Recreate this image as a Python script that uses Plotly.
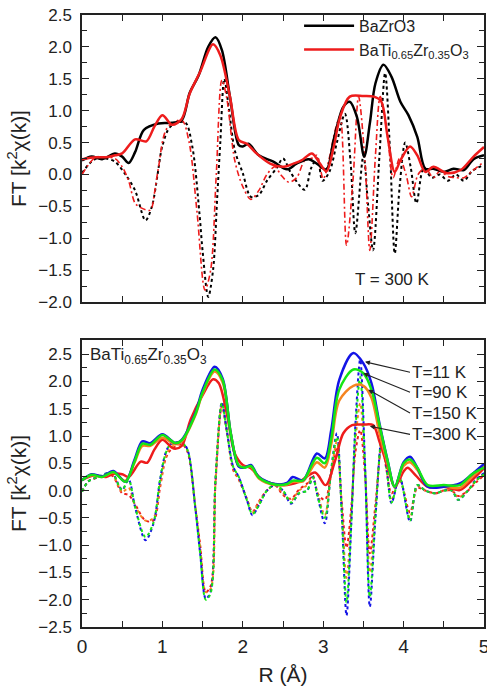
import plotly.graph_objects as go

# ---------------- Top panel data (T = 300 K) ----------------
r_bzo_mag = [0, 0.12, 0.25, 0.41, 0.5, 0.58, 0.66, 0.77, 0.95, 1.12, 1.24, 1.34, 1.45, 1.57, 1.66, 1.74, 1.84,
             1.95, 2.0, 2.07, 2.2, 2.38, 2.55, 2.67, 2.82, 2.92, 3.04, 3.13, 3.25, 3.33, 3.42, 3.51, 3.58, 3.65,
             3.75, 3.85, 3.96, 4.06, 4.17, 4.27, 4.37, 4.5, 4.62, 4.75, 4.87, 5.0]
v_bzo_mag = [0.22, 0.28, 0.24, 0.33, 0.28, 0.18, 0.35, 0.70, 0.80, 0.81, 0.85, 1.28, 1.55, 2.0, 2.15, 1.95, 1.22,
             0.46, 0.44, 0.48, 0.30, 0.20, 0.08, 0.17, 0.24, 0.17, 0.08, 0.54, 1.06, 1.14, 0.90, 0.28, 0.80, 1.43,
             1.72, 1.53, 1.14, 0.93, 0.59, 0.09, 0.09, 0.04, 0.09, 0.07, 0.24, 0.30]

r_btz_mag = [0, 0.17, 0.3, 0.41, 0.5, 0.66, 0.8, 0.9, 1.0, 1.12, 1.24, 1.34, 1.47, 1.63, 1.72, 1.84, 1.95, 2.05,
             2.17, 2.34, 2.51, 2.63, 2.73, 2.86, 2.96, 3.04, 3.13, 3.21, 3.33, 3.5, 3.63, 3.72, 3.8, 3.89, 3.96,
             4.08, 4.17, 4.27, 4.37, 4.54, 4.71, 4.87, 5.0]
v_btz_mag = [0.24, 0.27, 0.27, 0.30, 0.33, 0.55, 0.52, 0.75, 0.93, 0.78, 0.87, 1.27, 1.61, 2.04, 1.87, 1.22, 0.54,
             0.48, 0.33, 0.17, 0.12, 0.17, 0.22, 0.33, 0.17, 0.05, 0.43, 0.90, 1.22, 1.23, 1.22, 1.15, 0.60, 0.04,
             0.22, 0.44, 0.30, 0.04, 0.12, 0.02, 0.07, 0.28, 0.43]

r_bzo_im = [0, 0.1, 0.2, 0.3, 0.41, 0.54, 0.66, 0.79, 0.87, 0.94, 1.0, 1.1, 1.28, 1.37, 1.46, 1.5, 1.57, 1.63,
            1.68, 1.72, 1.77, 1.83, 1.9, 2.0, 2.1, 2.2, 2.3, 2.42, 2.5, 2.6, 2.77, 2.85, 2.93, 2.99, 3.08, 3.17,
            3.27, 3.34, 3.40, 3.5, 3.56, 3.62, 3.7, 3.77, 3.83, 3.89, 3.95, 4.02, 4.09, 4.16, 4.25, 4.35, 4.45,
            4.55, 4.65, 4.75, 4.85, 5.0]
v_bzo_im = [0.02, 0.18, 0.26, 0.25, 0.20, 0.0, -0.25, -0.72, -0.5, 0.0, 0.45, 0.75, 0.82, 0.45, -0.6, -1.2, -1.92,
            -1.5, -0.4, 0.5, 1.5, 1.0, 0.38, 0.02, -0.35, -0.32, -0.10, 0.10, 0.25, 0.02, -0.24, 0.10, 0.25,
            -0.10, 0.05, 0.50, 0.95, 0.20, -0.92, 0.30, -0.50, -1.19, 0.30, 1.59, 0.40, -1.24, -0.20, 0.50, 0.10,
            -0.45, 0.10, -0.05, 0.0, -0.10, 0.0, -0.10, 0.05, 0.15]

r_btz_im = [0, 0.17, 0.3, 0.41, 0.5, 0.58, 0.66, 0.73, 0.85, 0.9, 0.95, 1.06, 1.24, 1.33, 1.43, 1.53, 1.6, 1.67,
            1.74, 1.8, 1.9, 2.0, 2.1, 2.2, 2.3, 2.4, 2.47, 2.57, 2.67, 2.77, 2.85, 2.92, 3.0, 3.08, 3.15, 3.21,
            3.29, 3.37, 3.44, 3.52, 3.58, 3.65, 3.71, 3.8, 3.87, 3.95, 4.03, 4.1, 4.18, 4.27, 4.37, 4.45, 4.55,
            4.65, 4.75, 4.85, 5.0]
v_btz_im = [0.0, 0.27, 0.27, 0.25, 0.12, -0.10, -0.45, -0.52, -0.56, -0.30, 0.10, 0.73, 0.85, 0.52, -0.58, -1.81,
            -1.5, 0.0, 1.48, 1.2, 0.22, -0.19, -0.39, -0.25, 0.0, 0.12, 0.0, -0.12, -0.05, 0.22, 0.25, 0.30,
            -0.07, 0.28, 0.70, 0.91, -1.11, -0.10, 1.22, 0.20, -1.19, 0.30, 1.22, 0.60, -0.05, 0.25, 0.0, -0.35,
            0.0, 0.10, -0.05, 0.05, -0.03, -0.05, -0.05, 0.05, 0.20]

# ---------------- Bottom panel data (BaTi0.65Zr0.35O3 vs T) ----------------
r_mag = [0, 0.12, 0.25, 0.39, 0.54, 0.65, 0.75, 0.85, 1.0, 1.16, 1.24, 1.41, 1.5, 1.65, 1.75, 1.85, 1.95, 2.02,
         2.1, 2.2, 2.4, 2.55, 2.62, 2.75, 2.92, 3.02, 3.1, 3.2, 3.375, 3.5, 3.6, 3.7, 3.8, 3.89, 4.0, 4.08, 4.17,
         4.3, 4.5, 4.7, 4.85, 5.0]
v_mag_11 = [0.19, 0.30, 0.26, 0.36, 0.16, 0.55, 0.90, 0.87, 1.03, 0.87, 0.93, 1.42, 1.85, 2.27, 2.05, 1.05, 0.44,
            0.42, 0.47, 0.25, 0.12, 0.14, 0.25, 0.19, 0.68, 0.59, 1.11, 2.03, 2.52, 2.33, 1.97, 1.23, 0.56, 0.07,
            0.52, 0.62, 0.42, 0.07, 0.07, 0.13, 0.30, 0.49]
v_mag_90 = [0.19, 0.29, 0.25, 0.34, 0.16, 0.52, 0.86, 0.84, 1.02, 0.87, 0.92, 1.40, 1.80, 2.22, 2.02, 1.05, 0.46,
            0.42, 0.45, 0.24, 0.11, 0.12, 0.18, 0.19, 0.60, 0.50, 0.95, 1.85, 2.22, 2.15, 1.85, 1.20, 0.55, 0.07,
            0.50, 0.57, 0.42, 0.10, 0.10, 0.10, 0.30, 0.42]
v_mag_150 = [0.19, 0.28, 0.25, 0.33, 0.18, 0.50, 0.82, 0.82, 0.97, 0.85, 0.90, 1.38, 1.78, 2.18, 1.98, 1.05, 0.45,
             0.43, 0.44, 0.22, 0.10, 0.11, 0.16, 0.17, 0.52, 0.42, 0.85, 1.65, 1.92, 1.92, 1.70, 1.05, 0.50, 0.07,
             0.45, 0.52, 0.38, 0.08, 0.08, 0.05, 0.25, 0.45]
r_mag_300 = [0, 0.15, 0.3, 0.4, 0.5, 0.58, 0.73, 0.81, 0.9, 1.0, 1.14, 1.24, 1.35, 1.5, 1.63, 1.7, 1.8, 1.9, 2.0,
             2.1, 2.25, 2.5, 2.7, 2.9, 3.03, 3.15, 3.25, 3.36, 3.5, 3.62, 3.7, 3.8, 3.89, 4.0, 4.05, 4.15, 4.3,
             4.5, 4.7, 4.85, 5.0]
v_mag_300 = [0.19, 0.28, 0.25, 0.31, 0.30, 0.25, 0.53, 0.51, 0.75, 0.93, 0.77, 0.82, 1.30, 1.75, 2.04, 1.97, 1.42,
             0.68, 0.47, 0.41, 0.19, 0.10, 0.16, 0.33, 0.10, 0.56, 1.05, 1.20, 1.21, 1.20, 0.90, 0.44, 0.07, 0.35,
             0.42, 0.28, 0.07, 0.07, 0.01, 0.19, 0.41]

r_im = [0, 0.08, 0.2, 0.37, 0.46, 0.5, 0.58, 0.66, 0.79, 0.89, 0.97, 1.04, 1.1, 1.24, 1.31, 1.41, 1.47, 1.54, 1.6,
        1.66, 1.74, 1.8, 1.88, 1.95, 2.05, 2.12, 2.2, 2.3, 2.4, 2.5, 2.6, 2.7, 2.8, 2.87, 2.93, 3.02, 3.1, 3.17,
        3.23, 3.29, 3.35, 3.4, 3.46, 3.52, 3.58, 3.65, 3.73, 3.79, 3.85, 3.95, 4.08, 4.17, 4.27, 4.4, 4.5, 4.6,
        4.68, 4.8, 4.9, 5.0]
v_im_11 = [-0.02, 0.17, 0.25, 0.33, 0.09, 0.01, 0.20, -0.30, -0.91, -0.60, 0.19, 0.69, 0.85, 0.88, 0.76, -0.33,
           -1.16, -1.98, -1.85, 0.19, 1.62, 1.11, 0.44, 0.25, -0.17, -0.45, -0.27, 0.0, 0.10, 0.0, -0.24, -0.05,
           0.0, 0.25, -0.10, -0.60, 0.40, 1.05, -0.40, -2.29, -0.60, 1.20, 2.40, 0.50, -2.13, -0.50, 0.98, 0.40,
           -0.23, 0.25, -0.57, 0.10, 0.0, -0.05, 0.0, 0.0, -0.17, 0.0, 0.20, 0.32]
v_im_90 = [-0.02, 0.17, 0.25, 0.32, 0.09, 0.01, 0.19, -0.30, -0.85, -0.58, 0.19, 0.68, 0.84, 0.87, 0.75, -0.33,
           -1.16, -2.00, -1.88, 0.19, 1.60, 1.10, 0.44, 0.25, -0.17, -0.43, -0.27, 0.0, 0.10, 0.0, -0.22, -0.05,
           0.0, 0.24, -0.10, -0.50, 0.38, 0.98, -0.38, -2.05, -0.55, 1.10, 2.08, 0.45, -1.95, -0.45, 0.95, 0.40,
           -0.22, 0.24, -0.55, 0.10, 0.0, -0.05, 0.0, 0.0, -0.17, 0.0, 0.18, 0.30]
v_im_150 = [-0.02, 0.17, 0.24, 0.30, 0.07, -0.03, 0.05, -0.28, -0.55, -0.50, 0.10, 0.62, 0.78, 0.86, 0.75, -0.30,
            -1.05, -1.86, -1.80, 0.15, 1.58, 1.10, 0.40, 0.22, -0.15, -0.40, -0.22, 0.0, 0.10, -0.05, -0.18, 0.0,
            0.10, 0.25, -0.05, -0.45, 0.35, 0.90, -0.30, -1.60, -0.45, 0.90, 1.60, 0.40, -1.50, -0.35, 0.90, 0.40,
            -0.18, 0.22, -0.50, 0.08, 0.0, -0.05, 0.0, 0.0, -0.12, 0.0, 0.18, 0.30]
v_im_300 = [-0.02, 0.17, 0.24, 0.28, 0.05, -0.05, -0.08, -0.25, -0.55, -0.55, 0.05, 0.58, 0.74, 0.85, 0.72, -0.30,
            -1.00, -1.86, -1.75, 0.12, 1.55, 1.10, 0.38, 0.20, -0.15, -0.39, -0.20, 0.0, 0.10, -0.08, -0.15, 0.02,
            0.13, 0.28, -0.05, -0.17, 0.30, 0.80, -0.20, -1.05, -0.30, 0.70, 1.11, 0.30, -1.15, -0.25, 0.85, 0.35,
            -0.05, 0.20, -0.40, 0.05, 0.0, -0.05, 0.0, 0.0, -0.10, 0.0, 0.15, 0.28]

x_ticks = [0, 1, 2, 3, 4, 5]
temp_labels = ["T=11 K", "T=90 K", "T=150 K", "T=300 K"]

# ---------------- Figure ----------------
BLUE = "#1414e6"
GREEN = "#14e614"
ORANGE = "#f5841f"
RED = "#ee1c1c"
FONT = "Arial, Liberation Sans, Helvetica, sans-serif"

fig = go.Figure()
sp = dict(shape="spline", smoothing=0.9)

# top panel
fig.add_trace(go.Scatter(x=r_bzo_im, y=v_bzo_im, mode="lines", showlegend=False,
                         line=dict(color="black", width=2, dash="dot", **sp), xaxis="x", yaxis="y"))
fig.add_trace(go.Scatter(x=r_btz_im, y=v_btz_im, mode="lines", showlegend=False,
                         line=dict(color=RED, width=1.6, dash="6px,3px,2px,3px", **sp), xaxis="x", yaxis="y"))
fig.add_trace(go.Scatter(x=r_bzo_mag, y=v_bzo_mag, mode="lines", name="BaZrO3",
                         line=dict(color="black", width=2.5, **sp), xaxis="x", yaxis="y"))
fig.add_trace(go.Scatter(x=r_btz_mag, y=v_btz_mag, mode="lines",
                         name="BaTi<sub>0.65</sub>Zr<sub>0.35</sub>O<sub>3</sub>",
                         line=dict(color=RED, width=2.5, **sp), xaxis="x", yaxis="y"))

# bottom panel: imaginary parts (dotted)
for vals, col in [(v_im_300, RED), (v_im_150, ORANGE), (v_im_11, BLUE), (v_im_90, GREEN)]:
    fig.add_trace(go.Scatter(x=r_im, y=vals, mode="lines", showlegend=False,
                             line=dict(color=col, width=2, dash="dot", **sp), xaxis="x2", yaxis="y2"))
# bottom panel: magnitudes (solid)
fig.add_trace(go.Scatter(x=r_mag_300, y=v_mag_300, mode="lines", showlegend=False,
                         line=dict(color=RED, width=2.5, **sp), xaxis="x2", yaxis="y2"))
for vals, col in [(v_mag_150, ORANGE), (v_mag_11, BLUE), (v_mag_90, GREEN)]:
    fig.add_trace(go.Scatter(x=r_mag, y=vals, mode="lines", showlegend=False,
                             line=dict(color=col, width=2.5, **sp), xaxis="x2", yaxis="y2"))

axis_common = dict(showline=True, linecolor="#222", linewidth=1.5, mirror="allticks",
                   ticks="inside", tickcolor="#222", showgrid=False, zeroline=False,
                   automargin=False, ticklabeloverflow="allow")

fig.update_layout(
    template="none",
    width=487, height=698,
    margin=dict(l=82, r=3, t=15, b=71),
    paper_bgcolor="white", plot_bgcolor="white",
    font=dict(family=FONT, color="#222"),
    showlegend=True,
    legend=dict(x=0.54, y=1.01, xanchor="left", yanchor="top", bgcolor="rgba(0,0,0,0)",
                font=dict(size=16, family=FONT, color="#222"), tracegroupgap=0, itemwidth=50),
    xaxis=dict(domain=[0, 1], anchor="y", range=[0, 5], tickvals=x_ticks, showticklabels=False,
               ticklen=6, minor=dict(dtick=0.5, ticklen=6, ticks="inside", tickcolor="#222"),
               **axis_common),
    yaxis=dict(domain=[0.531, 1.0], anchor="x", range=[-2.0, 2.5], dtick=0.5, tickformat=".1f",
               ticklen=7, minor=dict(dtick=0.25, ticklen=5, ticks="inside", tickcolor="#222"),
               tickfont=dict(size=17), ticklabelstandoff=5,
               title=dict(text="FT [k<sup>2</sup>χ(k)]", font=dict(size=21), standoff=6),
               **axis_common),
    xaxis2=dict(domain=[0, 1], anchor="y2", range=[0, 5], tickvals=x_ticks, ticklen=6,
                minor=dict(dtick=0.5, ticklen=6, ticks="inside", tickcolor="#222"),
                tickfont=dict(size=19), ticklabelstandoff=1,
                title=dict(text="R (Å)", font=dict(size=21), standoff=12),
                **axis_common),
    yaxis2=dict(domain=[0, 0.469], anchor="x2", range=[-2.5, 2.76],
                tickvals=[-2.5, -2.0, -1.5, -1.0, -0.5, 0.0, 0.5, 1.0, 1.5, 2.0, 2.5],
                tickformat=".1f", ticklen=7,
                minor=dict(dtick=0.25, tick0=0, ticklen=5, ticks="inside", tickcolor="#222"),
                tickfont=dict(size=17), ticklabelstandoff=5,
                title=dict(text="FT [k<sup>2</sup>χ(k)]", font=dict(size=21), standoff=6),
                **axis_common),
)

ann = []
ann.append(dict(x=3.86, y=-1.64, xref="x", yref="y", text="T = 300 K", showarrow=False,
                font=dict(size=17, color="#222")))
ann.append(dict(x=0.07, y=2.46, xref="x2", yref="y2", xanchor="left",
                text="BaTi<sub>0.65</sub>Zr<sub>0.35</sub>O<sub>3</sub>", showarrow=False,
                font=dict(size=17, color="#222")))
arrow_geo = [(3.52, 2.36, 2.17), (3.50, 2.15, 1.80), (3.56, 1.85, 1.42), (3.58, 1.18, 1.03)]
for txt, (tipx, tipy, ty) in zip(temp_labels, arrow_geo):
    ann.append(dict(x=tipx, y=tipy, xref="x2", yref="y2", ax=4.08, ay=ty, axref="x2", ayref="y2",
                    xanchor="left", yanchor="middle", text=txt, showarrow=True,
                    arrowhead=2, arrowsize=0.9, arrowwidth=1.1, arrowcolor="#222",
                    font=dict(size=17, color="#222")))
fig.update_layout(annotations=ann)

fig.write_html("out.html", config={"displayModeBar": False},
               post_script="document.body.style.margin='0px';")
